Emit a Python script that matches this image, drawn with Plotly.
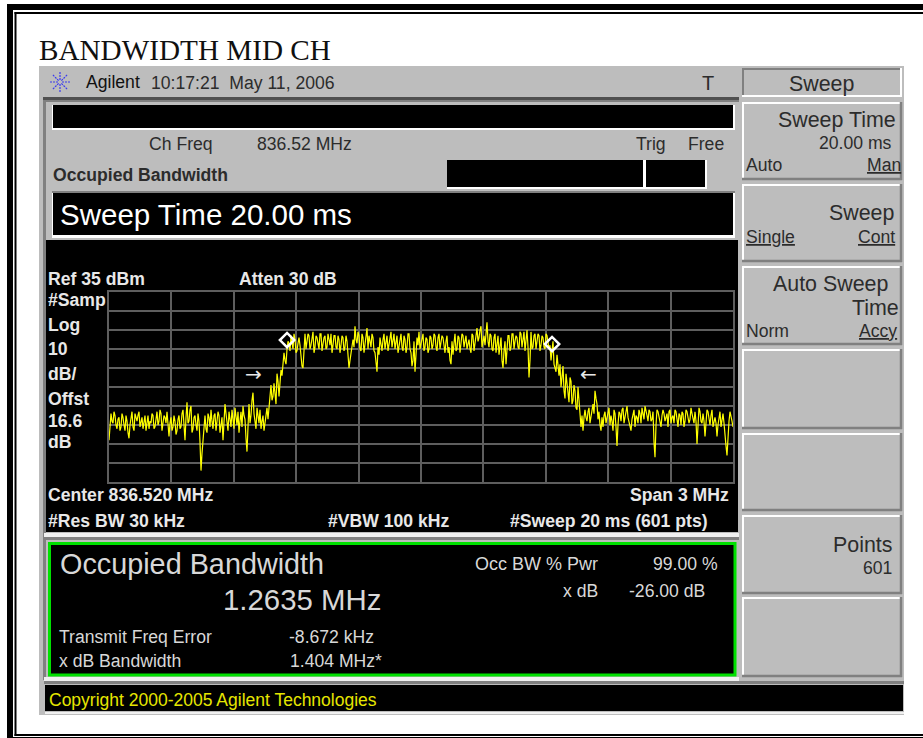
import math
import numpy as np
import plotly.graph_objects as go

W, H = 923, 738

CENTER_MHZ = 836.52
SPAN_MHZ = 3.0
REF_DBM = 35
DB_PER_DIV = 10
DIVS = 10

floor_left = [-43,-29,-34,-30,-37,-31,-36,-31,-38,-33,
              -42,-31,-36,-29,-33,-28,-34,-37,-30,-35,
              -37,-34,-30,-36,-28,-33,-29,-35,-31,-28,
              -41,-31,-36,-33,-38,-30,-36,-27,-43,-23,
              -33,-25,-37,-30,-38,-33,-59,-43,-30,-39,
              -31,-27,-37,-29,-33,-30,-35,-43,-24,-34,
              -28,-36,-31,-26,-35,-39,-28,-25,-32,-49,
              -24,-30,-18,-33,-26,-34,-37,-30,-34,-26]
rise = [-25,-14,-20,-19,-8,-20,-6,-2,-1,5]
plateau = [8,12,5,10,4,11,-1,-5,13,9,
           12,7,14,6,11,5,13,8,12,6,
           10,13,7,12,5,10,7,11,6,9,
           -5,3,10,17,8,12,4,11,7,16,
           12,6,11,3,-7,2,8,10,5,12,
           7,14,9,5,12,7,13,4,10,6,
           13,3,-1,-7,11,14,8,13,6,10,
           5,11,7,12,4,13,8,11,3,12,
           6,-3,2,13,5,11,7,12,9,5,
           10,3,12,8,16,11,17,10,7,19,
           6,12,4,13,8,2,11,-5,9,3,
           12,6,13,9,11,5,13,10,4,15,
           -10,14,6,13,9,12,7,11,5,12]
fall = [5,-1,9,-5,2,-9,-15,-4,-21,-12,-23,-12,-22,-17,-27,-24,-36]
floor_right = [-38,-27,-33,-26,-30,-24,-17,-24,-28,-38,
               -36,-28,-31,-26,-30,-38,-29,-46,-28,-33,
               -26,-30,-25,-33,-38,-29,-36,-31,-27,-34,
               -29,-25,-30,-27,-33,-28,-52,-27,-31,-36,
               -27,-33,-29,-28,-34,-30,-27,-33,-29,-35,
               -29,-33,-28,-34,-26,-31,-28,-45,-26,-33,
               -29,-41,-27,-33,-30,-36,-31,-41,-30,-36,
               -29,-42,-51,-33,-30,-36]
# readings taken between the ones above
between_left = [-36,-33,-28,-35,-32,-38,-29,-35,-30,-39,
                -35,-28,-38,-32,-30,-36,-31,-33,-38,-30,
                -33,-29,-37,-31,-35,-27,-38,-30,-34,-36,
                -34,-38,-30,-40,-32,-37,-29,-35,-31,-34,
                -27,-39,-31,-35,-29,-44,-50,-34,-37,-29,
                -36,-33,-30,-38,-28,-39,-31,-36,-29,-38,
                -32,-27,-37,-30,-28,-33,-36,-30,-42,-36,
                -34,-22,-29,-37,-30,-27,-33,-38,-29,-32]
between_rise = [-18,-22,-13,-24,-12,-11,-9,3,-3,9]
between_plateau = [4,9,13,3,8,7,-4,6,5,13,
                   5,11,3,12,8,13,4,11,5,13,
                   7,3,12,6,12,3,12,4,12,2,
                   -1,8,6,10,14,5,13,3,14,5,
                   9,13,4,-2,6,11,4,13,8,4,
                   12,6,13,8,3,11,6,12,3,13,
                   5,-4,9,2,7,5,12,4,11,3,
                   12,5,13,6,11,5,12,5,9,3,
                   -1,9,8,4,12,3,13,6,12,8,
                   5,13,4,12,9,15,6,12,14,9,
                   13,5,11,3,12,7,-1,4,-3,12,
                   4,13,5,12,6,14,6,14,8,6,
                   -1,5,12,5,13,4,12,6,13,8]
between_fall = [7,4,-3,-7,-5,-3,-10,-17,-8,-18,-10,-24,-14,-26,-15,-33,-30]
between_right = [-31,-31,-28,-34,-25,-29,-21,-32,-35,-31,
                 -30,-34,-27,-35,-33,-27,-36,-35,-29,-27,
                 -34,-29,-31,-36,-32,-27,-30,-34,-29,-26,
                 -32,-29,-33,-28,-32,-44,-35,-28,-33,-30,
                 -29,-31,-36,-27,-31,-34,-28,-36,-30,-28,
                 -36,-27,-31,-32,-29,-34,-33,-35,-28,-34,
                 -33,-34,-28,-35,-27,-33,-34,-35,-28,-33,
                 -34,-46,-38,-28,-33]
marker_mhz = [835.876, 837.150]
marker_dbm = [9.7, 7.6]
arrow_mhz = [835.715, 837.323]
arrow_dbm = [-7.9, -7.9]

coarse = floor_left + rise + plateau + fall + floor_right
fine = between_left + between_rise + between_plateau + between_fall + between_right
trace_dbm = [None] * (len(coarse) + len(fine))
trace_dbm[0::2] = coarse
trace_dbm[1::2] = fine
freq_mhz = np.linspace(CENTER_MHZ - SPAN_MHZ / 2, CENTER_MHZ + SPAN_MHZ / 2, len(trace_dbm))

GRAY = "#bdbdbd"
DARK = "#808080"
INK = "#2c2c2c"
SANS = "Liberation Sans"
SM = 17.6
KEY = 21.4

shapes, notes = [], []


def X(p):
    return p / W


def Y(p):
    return 1 - p / H


def rect(x0, y0, x1, y1, fill, line=None, lw=0):
    shapes.append(dict(type="rect", xref="paper", yref="paper", layer="below",
                       x0=X(x0), x1=X(x1), y0=Y(y0), y1=Y(y1), fillcolor=fill,
                       line=dict(color=line or fill, width=lw)))


def seg(x0, y0, x1, y1, color, lw=1, dash="solid"):
    shapes.append(dict(type="line", xref="paper", yref="paper", layer="below",
                       x0=X(x0), x1=X(x1), y0=Y(y0), y1=Y(y1),
                       line=dict(color=color, width=lw, dash=dash)))


def text(x, y, s, size, color=INK, anchor="left", bold=False, family=SANS):
    notes.append(dict(xref="paper", yref="paper", x=X(x), y=Y(y - 1), text=f"<b>{s}</b>" if bold else s,
                      showarrow=False, xanchor=anchor, yanchor="middle", borderpad=0, borderwidth=0,
                      font=dict(family=family, size=size, color=color)))


# page frame
rect(7, 4, W, 10, "#000000")
rect(7, 4, 13, H, "#000000")
rect(14.5, 12, W, 14, "#000000")
rect(14.5, 12, 16.5, 736, "#000000")
rect(14.5, 734, W, 736, "#000000")
rect(7, 737, W, H, "#000000")
text(39, 51, "BANDWIDTH MID CH", 29.2, "#101010", family="Liberation Serif")

# instrument panel
rect(39, 66, 904, 715, GRAY)
rect(43, 97, 739, 100, "#505050")
rect(43, 100, 739, 102, DARK)
rect(43, 100, 46, 680, DARK)
# status rows
rect(52, 105, 735, 130, "#ffffff")
rect(53, 105, 733, 128, "#000000")
rect(447, 160, 707, 189, "#ffffff")
rect(447, 160, 643, 187, "#000000")
rect(646, 160, 705, 187, "#000000")
rect(52, 191, 735, 238, "#ffffff")
rect(52, 191, 735, 193, DARK)
rect(53, 193, 733, 235, "#000000")
# graticule screen
rect(46, 240, 738, 532, "#000000")
rect(44, 533, 739, 537, "#f0f0f0")
rect(44, 537, 739, 540, DARK)
# result box
rect(49.5, 543.5, 735, 675, "#000000", "#00e000", 3)
rect(44, 677, 739, 681, "#f0f0f0")
rect(44, 681, 904, 684, DARK)
rect(45, 685, 903, 711, "#000000")
rect(45, 712, 904, 714, "#f0f0f0")

# softkeys
rect(742, 68, 902, 97, GRAY)
seg(742, 69, 902, 69, DARK, 2)
seg(743, 68, 743, 97, DARK, 2)
seg(742, 96, 902, 96, "#ffffff", 2)
seg(901, 68, 901, 97, "#ffffff", 2)
for top, bot in [(102, 180), (184, 262), (266, 345), (349, 429), (433, 511), (515, 594), (597, 677)]:
    rect(742, top, 902, bot, GRAY)
    seg(742, top + 1, 902, top + 1, "#ffffff", 2)
    seg(743, top, 743, bot, "#ffffff", 2)
    seg(742, bot - 1, 902, bot - 1, DARK, 2.5)
    seg(901, top, 901, bot, DARK, 2.5)

# Agilent spark
for k in range(8):
    a = math.pi * k / 4
    seg(60 + 2 * math.cos(a), 82 + 2 * math.sin(a), 60 + 10 * math.cos(a), 82 + 10 * math.sin(a),
        "#3a3aee", 1.2, "2px,1px")

# header
text(86, 83, "Agilent", SM, "#111111")
text(151, 84, "10:17:21&nbsp;&nbsp;May 11, 2006", SM)
text(702, 84, "T", 20)
text(149, 145, "Ch Freq", SM)
text(257, 145, "836.52 MHz", SM)
text(636, 145, "Trig", SM)
text(688, 145, "Free", SM)
text(53, 176, "Occupied Bandwidth", SM, bold=True)
text(60, 215, "Sweep Time 20.00 ms", 29.5, "#ffffff")

# softkey labels
text(821, 85, "Sweep", KEY, anchor="center")
text(896, 121, "Sweep Time", KEY, anchor="right")
text(892, 144, "20.00 ms", SM, anchor="right")
text(746, 166, "Auto", SM)
text(901, 166, "<u>Man</u>", SM, anchor="right")
text(894, 214, "Sweep", KEY, anchor="right")
text(746, 238, "<u>Single</u>", SM)
text(895, 238, "<u>Cont</u>", SM, anchor="right")
text(888, 285, "Auto Sweep", KEY, anchor="right")
text(899, 309, "Time", KEY, anchor="right")
text(746, 332, "Norm", SM)
text(897, 332, "<u>Accy</u>", SM, anchor="right")
text(892, 546, "Points", KEY, anchor="right")
text(892, 569, "601", SM, anchor="right")

# graticule labels
WH = "#e8e8e8"
text(48, 280, "Ref 35 dBm", SM, WH, bold=True)
text(239, 280, "Atten 30 dB", SM, WH, bold=True)
for yy, s in [(301, "#Samp"), (326, "Log"), (350, "10"), (375, "dB/"), (400, "Offst"), (422, "16.6"), (443, "dB")]:
    text(48, yy, s, SM, WH, bold=True)
text(48, 496, "Center 836.520 MHz", SM, WH, bold=True)
text(729, 496, "Span 3 MHz", SM, WH, anchor="right", bold=True)
text(48, 522, "#Res BW 30 kHz", SM, WH, bold=True)
text(328, 522, "#VBW 100 kHz", SM, WH, bold=True)
text(708, 522, "#Sweep 20 ms (601 pts)", SM, WH, anchor="right", bold=True)

# result box
RES = "#d8d8d8"
text(60, 565, "Occupied Bandwidth", 28.8, RES)
text(223, 600, "1.2635 MHz", 29.4, RES)
text(59, 638, "Transmit Freq Error", SM, RES)
text(289, 638, "-8.672 kHz", SM, RES)
text(59, 662, "x dB Bandwidth", SM, RES)
text(290, 662, "1.404 MHz*", SM, RES)
text(598, 565, "Occ BW % Pwr", 18, RES, anchor="right")
text(718, 565, "99.00 %", SM, RES, anchor="right")
text(598, 592, "x dB", SM, RES, anchor="right")
text(705, 592, "-26.00 dB", SM, RES, anchor="right")
text(49, 701, "Copyright 2000-2005 Agilent Technologies", 17.5, "#e6e600")

# arrows on the trace
for ax, ay, s in zip(arrow_mhz, arrow_dbm, ["→", "←"]):
    notes.append(dict(xref="x", yref="y", x=ax, y=ay, text=s, showarrow=False, xanchor="center",
                      yanchor="middle", font=dict(family="DejaVu Sans", size=20, color="#e8e8e8")))

fig = go.Figure()
fig.add_trace(go.Scatter(x=freq_mhz, y=trace_dbm, mode="lines", line=dict(color="#ffff00", width=1.2),
                         hoverinfo="skip", showlegend=False))
fig.add_trace(go.Scatter(x=marker_mhz, y=marker_dbm, mode="markers",
                         marker=dict(symbol="diamond-open", size=11, color="#ffffff", line=dict(color="#ffffff", width=2.5)),
                         hoverinfo="skip", showlegend=False))

GRID = "#5e5e5e"
fig.update_layout(
    width=W, height=H, margin=dict(l=0, r=0, t=0, b=0, pad=0),
    paper_bgcolor="#ffffff", plot_bgcolor="rgba(0,0,0,0)", showlegend=False, hovermode=False,
    shapes=shapes, annotations=notes,
    xaxis=dict(domain=[X(109), X(733)], range=[CENTER_MHZ - SPAN_MHZ / 2, CENTER_MHZ + SPAN_MHZ / 2],
               tick0=CENTER_MHZ - SPAN_MHZ / 2, dtick=SPAN_MHZ / DIVS, showticklabels=False, ticks="",
               showgrid=True, gridcolor=GRID, gridwidth=1.5, zeroline=False,
               showline=True, linecolor=GRID, linewidth=2, mirror=True),
    yaxis=dict(domain=[Y(482), Y(292)], range=[REF_DBM - DB_PER_DIV * DIVS, REF_DBM],
               tick0=REF_DBM, dtick=DB_PER_DIV, showticklabels=False, ticks="",
               showgrid=True, gridcolor=GRID, gridwidth=1.5, zeroline=False,
               showline=True, linecolor=GRID, linewidth=2, mirror=True),
)
fig.write_html("out.html", config=dict(displayModeBar=False),
               post_script="document.body.style.margin='0';document.body.style.overflow='hidden';")
